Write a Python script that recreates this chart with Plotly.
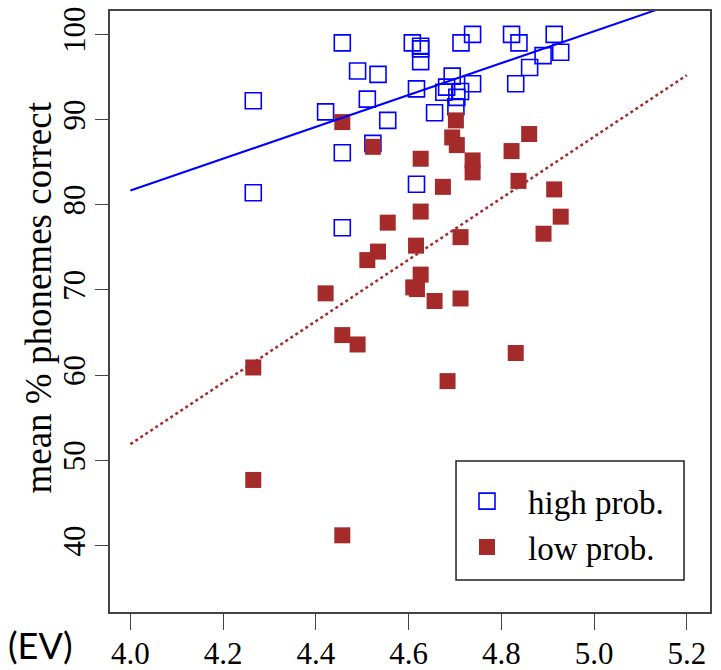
import plotly.graph_objects as go

# ---- data ----
high_x = [4.265, 4.265, 4.421, 4.457, 4.457, 4.457, 4.490, 4.511, 4.534, 4.523, 4.555,
          4.608, 4.626, 4.626, 4.626, 4.713, 4.738, 4.822, 4.838, 4.914, 4.928, 4.890,
          4.861, 4.831, 4.738, 4.694, 4.682, 4.676, 4.712, 4.617, 4.702, 4.704, 4.656, 4.617]
high_y = [92.2, 81.4, 90.9, 99.0, 86.1, 77.3, 95.7, 92.4, 95.3, 87.2, 89.9,
          99.0, 98.6, 98.3, 96.8, 99.0, 100.0, 100.0, 99.0, 100.0, 97.9, 97.5,
          96.1, 94.2, 94.2, 95.1, 93.8, 93.2, 93.3, 93.6, 91.5, 92.6, 90.8, 82.4]

low_x = [4.457, 4.523, 4.555, 4.534, 4.511, 4.421, 4.265, 4.457, 4.490, 4.265, 4.457,
         4.702, 4.694, 4.704, 4.738, 4.738, 4.860, 4.822, 4.626, 4.837, 4.914, 4.674,
         4.626, 4.928, 4.891, 4.712, 4.616, 4.626, 4.610, 4.618, 4.656, 4.712, 4.831, 4.684]
low_y = [89.7, 86.8, 77.9, 74.5, 73.5, 69.6, 60.9, 64.7, 63.6, 47.7, 41.2,
         89.9, 87.9, 87.0, 85.2, 83.8, 88.3, 86.3, 85.4, 82.8, 81.8, 82.1,
         79.2, 78.6, 76.6, 76.2, 75.2, 71.8, 70.3, 70.1, 68.7, 69.0, 62.6, 59.3]

fit_x = [4.0, 5.2]
fit_high = [81.67, 104.1]
fit_low = [51.9, 95.2]

x_ticks = [4.0, 4.2, 4.4, 4.6, 4.8, 5.0, 5.2]
x_ticklabels = ["4.0", "4.2", "4.4", "4.6", "4.8", "5.0", "5.2"]
y_ticks = [40, 50, 60, 70, 80, 90, 100]

BLUE = "#0000FF"
BROWN = "#A52A2A"
SERIF = "Liberation Serif"

fig = go.Figure()
fig.add_trace(go.Scatter(x=high_x, y=high_y, mode="markers", name="high prob.",
                         marker=dict(symbol="square-open", size=16, color=BLUE,
                                     line=dict(width=1.6, color=BLUE))))
fig.add_trace(go.Scatter(x=low_x, y=low_y, mode="markers", name="low prob.",
                         marker=dict(symbol="square", size=16, color=BROWN,
                                     line=dict(width=0))))
fig.add_trace(go.Scatter(x=fit_x, y=fit_high, mode="lines", showlegend=False,
                         line=dict(color=BLUE, width=2)))
fig.add_trace(go.Scatter(x=fit_x, y=fit_low, mode="lines", showlegend=False,
                         line=dict(color=BROWN, width=2.5, dash="dot")))

fig.update_layout(
    width=721, height=670,
    margin=dict(l=110, r=11, t=11, b=58),
    paper_bgcolor="white", plot_bgcolor="white",
    font=dict(family=SERIF, color="black", size=30),
    showlegend=True,
    legend=dict(x=0.56, y=0.231, xanchor="left", yanchor="top",
                bgcolor="rgba(0,0,0,0)", borderwidth=0,
                font=dict(family=SERIF, size=33, color="black"),
                itemwidth=72, tracegroupgap=0),
    xaxis=dict(range=[3.956, 5.25], tickvals=x_ticks, ticktext=x_ticklabels,
               showgrid=False, zeroline=False, showline=True, linecolor="#444",
               linewidth=1.5, mirror=True, ticks="outside", ticklen=16,
               tickcolor="#444", tickwidth=1.2, ticklabelstandoff=-3, automargin=False,
               tickfont=dict(family=SERIF, size=31, color="black")),
    yaxis=dict(range=[32.2, 102.74], tickvals=y_ticks,
               showgrid=False, zeroline=False, showline=True, linecolor="#444",
               linewidth=1.5, mirror=True, ticks="outside", ticklen=13,
               tickcolor="#444", tickwidth=1.2, tickangle=-90, ticklabelstandoff=-2,
               automargin=False,
               tickfont=dict(family=SERIF, size=31, color="black")),
    shapes=[dict(type="rect", xref="paper", yref="paper",
                 x0=0.5767, x1=0.9567, y0=0.0532, y1=0.2513,
                 line=dict(color="#222", width=1.5), fillcolor="rgba(0,0,0,0)")],
    annotations=[
        dict(text="mean % phonemes correct", xref="paper", yref="paper",
             x=0, y=0.5, xshift=-72, yshift=14, textangle=-90, showarrow=False,
             xanchor="center", yanchor="middle",
             font=dict(family=SERIF, size=37, color="black")),
        dict(text="(EV)", xref="paper", yref="paper", x=0, y=0,
             xshift=-70, yshift=-33, showarrow=False, xanchor="center", yanchor="middle",
             font=dict(family="Lato", size=36, color="black")),
    ],
)

fig.write_html("out.html")
